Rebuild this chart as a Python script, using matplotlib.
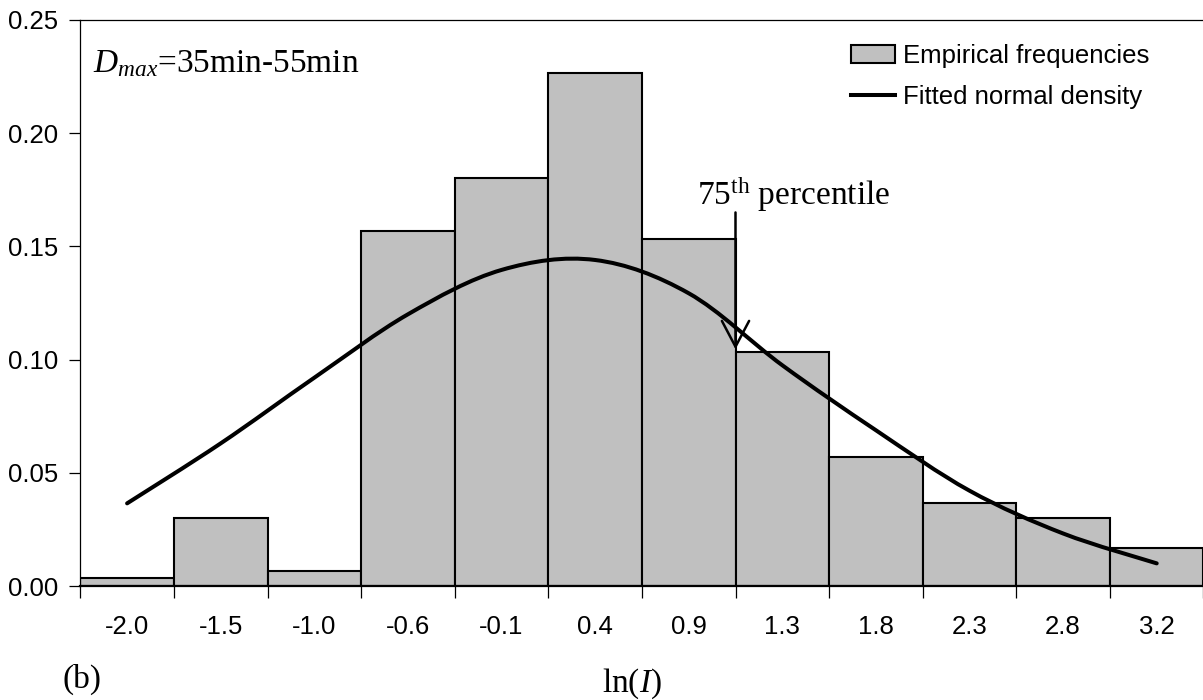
import matplotlib
matplotlib.use("Agg")
import matplotlib.pyplot as plt
from matplotlib.path import Path
from matplotlib.patches import PathPatch
from matplotlib.lines import Line2D
import numpy as np

categories = ["-2.0", "-1.5", "-1.0", "-0.6", "-0.1", "0.4", "0.9", "1.3", "1.8", "2.3", "2.8", "3.2"]
empirical = [0.0034, 0.0301, 0.0068, 0.1568, 0.1803, 0.2267, 0.1534, 0.1035, 0.0568, 0.0368, 0.0302, 0.0166]
fitted = [0.0365, 0.063, 0.092, 0.120, 0.1396, 0.1440, 0.1293, 0.0975, 0.0688, 0.0421, 0.0232, 0.0100]
yticks = [0.00, 0.05, 0.10, 0.15, 0.20, 0.25]
percentile_pos = 6.5
percentile_range = (0.1650, 0.1045)

plt.rcParams['font.family'] = ['Liberation Sans', 'DejaVu Sans']
plt.rcParams['mathtext.fontset'] = 'custom'
plt.rcParams['mathtext.rm'] = 'Liberation Serif'
plt.rcParams['mathtext.it'] = 'Liberation Serif:italic'

W, H = 1203, 700
fig = plt.figure(figsize=(W / 100, H / 100), dpi=100)
ax = fig.add_axes([80.3 / W, 114 / H, 1123.2 / W, 566 / H])

x = np.arange(len(categories))
bars = ax.bar(x, empirical, width=1.0, color='#C0C0C0', edgecolor='black',
              linewidth=1.5, label='Empirical frequencies', zorder=2)

# smooth (Excel-like) curve through the fitted points using cubic Bezier segments
pts = np.column_stack([x, fitted]).astype(float)
verts = [tuple(pts[0])]
codes = [Path.MOVETO]
n = len(pts)
for i in range(n - 1):
    p0 = pts[i - 1] if i > 0 else pts[i]
    p1 = pts[i]
    p2 = pts[i + 1]
    p3 = pts[i + 2] if i + 2 < n else pts[i + 1]
    c1 = p1 + (p2 - p0) / 6.0
    c2 = p2 - (p3 - p1) / 6.0
    verts += [tuple(c1), tuple(c2), tuple(p2)]
    codes += [Path.CURVE4] * 3
curve = PathPatch(Path(verts, codes), facecolor='none', edgecolor='black',
                  linewidth=2.9, capstyle='round', joinstyle='round', zorder=3)
ax.add_patch(curve)

ax.set_xlim(-0.5, len(categories) - 0.5)
ax.set_ylim(0, 0.25)

# ticks
ax.set_yticks(yticks)
ax.set_yticklabels([f"{v:.2f}" for v in yticks])
ax.tick_params(axis='y', direction='out', length=8, width=0.9, labelsize=18.5, pad=8)
ax.set_xticks(np.arange(len(categories) + 1) - 0.5)
ax.set_xticklabels([])
ax.set_xticks(x, minor=True)
ax.set_xticklabels(categories, minor=True)
ax.tick_params(axis='x', which='major', direction='out', length=8.5, width=0.9)
ax.tick_params(axis='x', which='minor', length=0, labelsize=18.5, pad=21)

for s in ['left', 'top']:
    ax.spines[s].set_linewidth(0.9)
ax.spines['bottom'].set_linewidth(1.6)
ax.spines['right'].set_visible(False)

# percentile arrow
ax.annotate('', xy=(percentile_pos, percentile_range[1]), xytext=(percentile_pos, percentile_range[0]),
            arrowprops=dict(arrowstyle='->,head_length=0.93,head_width=0.49', lw=1.8,
                            color='black', shrinkA=0, shrinkB=0, mutation_scale=20), zorder=4)

# legend
handles = [bars, Line2D([0], [0], color='black', lw=2.9)]
ax.legend(handles, ['Empirical frequencies', 'Fitted normal density'],
          loc='upper left', bbox_to_anchor=(850.7 / W, 656.5 / H), bbox_transform=fig.transFigure,
          frameon=False, fontsize=18.5, borderpad=0, borderaxespad=0,
          handlelength=1.72, handletextpad=0.32, labelspacing=0.68)

serif = 'Liberation Serif'
fig.text(93.3 / W, 1 - 71.7 / H, r'$D_{max}$=35min-55min', fontsize=24, family=serif,
         ha='left', va='baseline')
fig.text(696.7 / W, 1 - 204.5 / H, r'75$^{\mathrm{th}}$ percentile', fontsize=24, family=serif,
         ha='left', va='baseline')
fig.text(63 / W, 1 - 688 / H, '(b)', fontsize=24, family=serif, ha='left', va='baseline')
fig.text(601.7 / W, 1 - 691.7 / H, r'ln($I$)', fontsize=24, family=serif, ha='left', va='baseline')

fig.savefig('out.png', dpi=100)
